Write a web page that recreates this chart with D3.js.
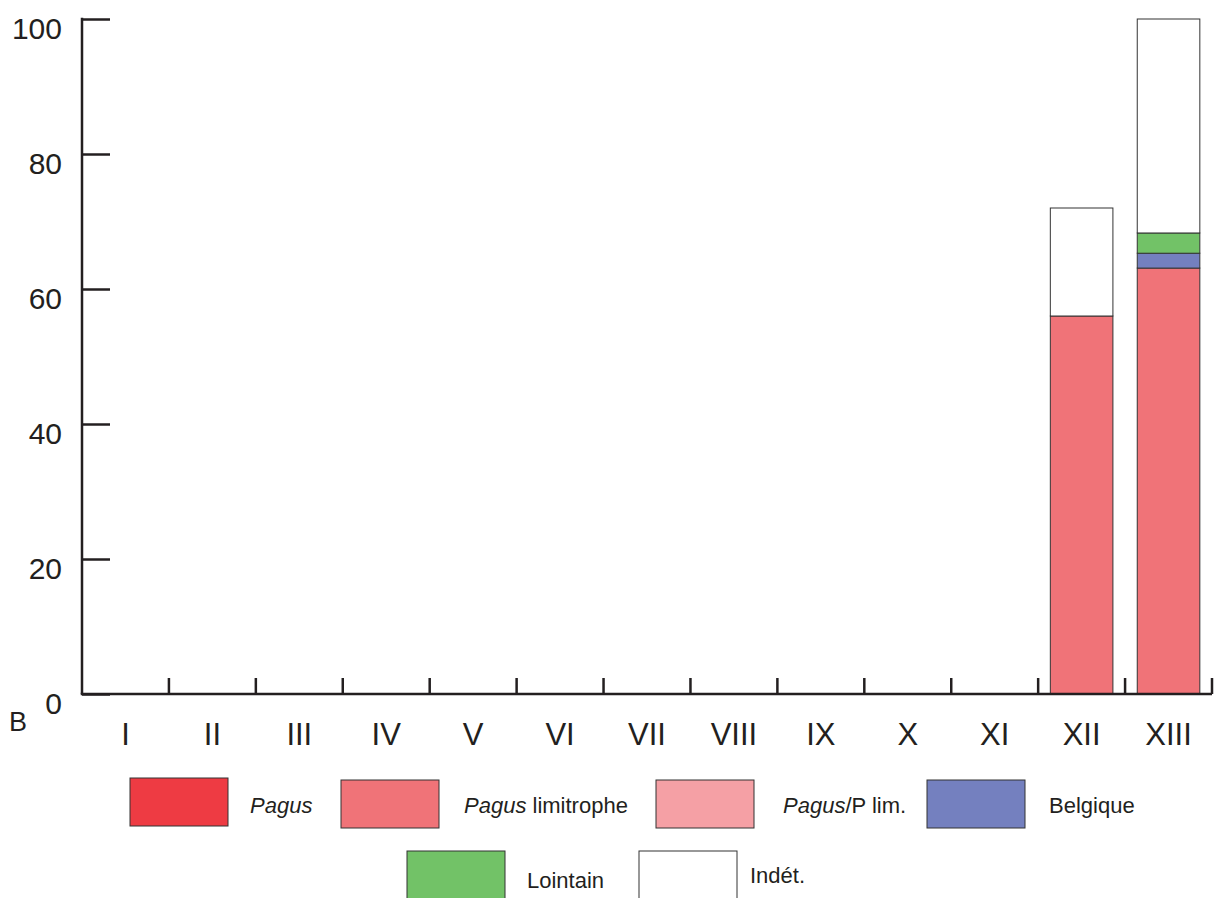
<!DOCTYPE html>
<html>
<head>
<meta charset="utf-8">
<script src="https://cdn.jsdelivr.net/npm/d3@7"></script>
<style>
  body { margin: 0; background: #fff; }
  svg { display: block; font-family: "Liberation Sans", Arial, Helvetica, sans-serif; }
</style>
</head>
<body>
<div id="chart"></div>
<script>
// Data (percentages per period)
const periods = ["I", "II", "III", "IV", "V", "VI", "VII", "VIII", "IX", "X", "XI", "XII", "XIII"];
const pagus      = [0, 0, 0, 0, 0, 0, 0, 0, 0, 0, 0, 0, 0];
const limitrophe = [0, 0, 0, 0, 0, 0, 0, 0, 0, 0, 0, 56, 63.1];
const pagusPlim  = [0, 0, 0, 0, 0, 0, 0, 0, 0, 0, 0, 0, 0];
const belgique   = [0, 0, 0, 0, 0, 0, 0, 0, 0, 0, 0, 0, 2.2];
const lointain   = [0, 0, 0, 0, 0, 0, 0, 0, 0, 0, 0, 0, 3.0];
const indet      = [0, 0, 0, 0, 0, 0, 0, 0, 0, 0, 0, 16, 31.7];
const yTicks = [0, 20, 40, 60, 80, 100];

const seriesNames = ["Pagus", "Pagus limitrophe", "Pagus/P lim.", "Belgique", "Lointain", "Indét."];
const seriesColors = ["#ee3b43", "#f07378", "#f5a0a5", "#7480bf", "#72c267", "#ffffff"];
const seriesValues = [pagus, limitrophe, pagusPlim, belgique, lointain, indet];

const width = 1227, height = 898;
const margin = { top: 19, right: 15, bottom: 204, left: 82 };

const svg = d3.select("#chart").append("svg")
  .attr("width", width)
  .attr("height", height);

// Build rows for the stack
const rows = periods.map((p, i) => {
  const row = { period: p };
  seriesNames.forEach((s, k) => row[s] = seriesValues[k][i]);
  return row;
});
const stacked = d3.stack().keys(seriesNames)(rows);

const x = d3.scaleBand()
  .domain(periods)
  .range([margin.left, width - margin.right])
  .padding(0);

const y = d3.scaleLinear()
  .domain([0, 100])
  .range([height - margin.bottom, margin.top]);

const barW = x.bandwidth() * 0.72;
const axisColor = "#231f20";

// Bars
stacked.forEach((layer, k) => {
  svg.append("g")
    .selectAll("rect")
    .data(layer.filter(d => d[1] - d[0] > 0))
    .join("rect")
    .attr("x", d => x(d.data.period) + (x.bandwidth() - barW) / 2)
    .attr("y", d => y(d[1]))
    .attr("width", barW)
    .attr("height", d => y(d[0]) - y(d[1]))
    .attr("fill", seriesColors[k])
    .attr("stroke", "#333")
    .attr("stroke-width", 1);
});

// Y axis (ticks pointing inward)
const yAxis = svg.append("g")
  .attr("transform", `translate(${margin.left},0)`)
  .call(d3.axisRight(y).tickValues(yTicks).tickSize(28).tickFormat(""));
yAxis.select(".domain").remove();
yAxis.selectAll("line").attr("stroke", axisColor).attr("stroke-width", 2.5);
svg.append("line")
  .attr("x1", margin.left).attr("x2", margin.left)
  .attr("y1", y(100) - 1.25).attr("y2", y(0))
  .attr("stroke", axisColor).attr("stroke-width", 2.5);

// Y tick labels
svg.append("g")
  .selectAll("text")
  .data(yTicks)
  .join("text")
  .attr("x", 62)
  .attr("y", d => y(d) + 20)
  .attr("text-anchor", "end")
  .style("font-size", "30px")
  .style("fill", axisColor)
  .text(d => d);

// X axis with ticks at band boundaries
svg.append("line")
  .attr("x1", margin.left - 1.25).attr("x2", width - margin.right)
  .attr("y1", y(0)).attr("y2", y(0))
  .attr("stroke", axisColor).attr("stroke-width", 2.5);
svg.append("g")
  .selectAll("line")
  .data(periods)
  .join("line")
  .attr("x1", d => x(d) + x.bandwidth())
  .attr("x2", d => x(d) + x.bandwidth())
  .attr("y1", y(0))
  .attr("y2", y(0) - 16)
  .attr("stroke", axisColor)
  .attr("stroke-width", 2.5);

// X labels
svg.append("g")
  .selectAll("text")
  .data(periods)
  .join("text")
  .attr("x", d => x(d) + x.bandwidth() / 2)
  .attr("y", y(0) + 51)
  .attr("text-anchor", "middle")
  .style("font-size", "31px")
  .style("fill", axisColor)
  .text(d => d);

// Panel letter
svg.append("text")
  .attr("x", 9)
  .attr("y", 731)
  .style("font-size", "27px")
  .style("fill", axisColor)
  .text("B");

// Legend
const legendItems = [
  { box: [130, 778], text: [250, 813], parts: [["Pagus", true]] },
  { box: [341, 780], text: [464, 813], parts: [["Pagus", true], [" limitrophe", false]] },
  { box: [656, 780], text: [783, 813], parts: [["Pagus", true], ["/P lim.", false]] },
  { box: [927, 780], text: [1049, 813], parts: [["Belgique", false]] },
  { box: [407, 851], text: [527, 888], parts: [["Lointain", false]] },
  { box: [639, 851], text: [750, 883], parts: [["Indét.", false]] }
];

const legend = svg.append("g");
legendItems.forEach((item, k) => {
  legend.append("rect")
    .attr("x", item.box[0])
    .attr("y", item.box[1])
    .attr("width", 98)
    .attr("height", 48)
    .attr("fill", seriesColors[k])
    .attr("stroke", "#333")
    .attr("stroke-width", 1);
  const t = legend.append("text")
    .attr("x", item.text[0])
    .attr("y", item.text[1])
    .style("font-size", "22px")
    .style("fill", axisColor);
  item.parts.forEach(([s, it]) => {
    t.append("tspan")
      .style("font-style", it ? "italic" : "normal")
      .text(s);
  });
});
</script>
</body>
</html>
